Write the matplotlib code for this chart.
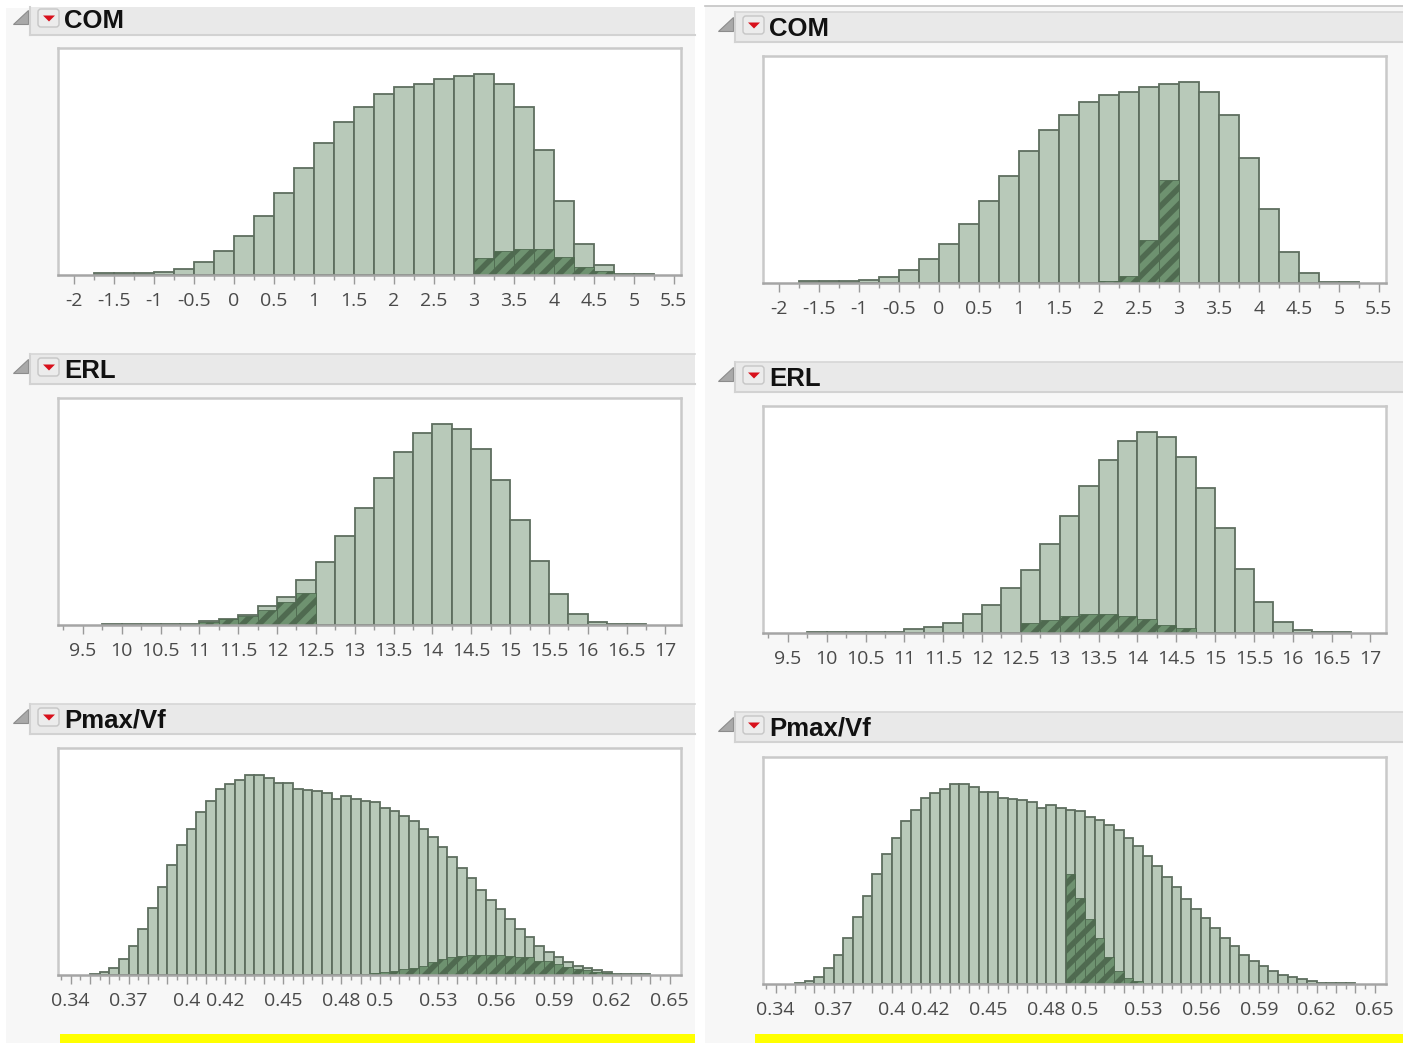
#JMP style distribution panels, two columns of three histograms
import matplotlib
matplotlib.use("Agg")
import matplotlib.pyplot as plt
from matplotlib.patches import Rectangle, Polygon, FancyBboxPatch
import numpy as np

titles = ["COM", "ERL", "Pmax/Vf"]

# heights, in the same arbitrary units as y_top
com_total = [5,5,5,10,19,39,73,117,177,247,321,394,459,503,543,562,571,586,596,603,571,503,374,222,92,30,4,4]
erl_total = [4,4,4,4,4,11,19,30,56,84,134,188,267,351,439,517,576,602,587,528,434,315,193,93,34,10,4,4]
pmax_total = [3,8,21,48,88,139,201,265,330,390,438,487,521,556,572,585,600,600,591,575,575,556,555,552,546,527,536,527,522,519,
              500,492,477,462,438,414,384,354,320,290,255,225,197,167,138,113,87,69,54,39,28,20,15,9,4,4,4,4]
y_top = 680

com_bins = np.arange(-1.75, 5.25, 0.25)
erl_bins = np.arange(9.75, 16.75, 0.25)
pmax_bins = 0.35 + 0.005 * np.arange(58)

# selected part of each histogram, left column
com_sel_l_x = [3, 3.25, 3.5, 3.75, 4, 4.25, 4.5, 4.75]
com_sel_l_h = [52, 72, 78, 78, 54, 25, 13, 3]
erl_sel_l_x = [10.75, 11, 11.25, 11.5, 11.75, 12, 12.25]
erl_sel_l_h = [2, 9, 17, 27, 45, 70, 95]
pmax_sel_l_x = [0.485,0.49,0.495,0.5,0.505,0.51,0.515,0.52,0.525,0.53,0.535,0.54,0.545,0.55,0.555,0.56,0.565,0.57,0.575,0.58,0.585,0.59,0.595,0.6,0.605,0.61,0.615,0.62]
pmax_sel_l_h = [1,4,6,8,12,18,22,27,40,47,53,57,59,60,61,61,57,55,54,43,41,33,25,19,14,10,5,2]

# right column
com_sel_r_x = [2, 2.25, 2.5, 2.75]
com_sel_r_h = [7, 20, 130, 308]
erl_sel_r_x = [12.5, 12.75, 13, 13.25, 13.5, 13.75, 14, 14.25, 14.5, 14.75, 15, 15.25]
erl_sel_r_h = [29, 39, 51, 56, 56, 51, 41, 25, 16, 4, 2, 1]
pmax_sel_r_x = [0.49, 0.495, 0.5, 0.505, 0.51, 0.515, 0.52, 0.525, 0.53, 0.535]
pmax_sel_r_h = [329, 259, 196, 137, 81, 39, 19, 9, 3, 1]

half_ticks = [-2, -1.5, -1, -0.5, 0, 0.5, 1, 1.5, 2, 2.5, 3, 3.5, 4, 4.5, 5, 5.5]
half_labels = ["-2", "-1.5", "-1", "-0.5", "0", "0.5", "1", "1.5", "2", "2.5", "3", "3.5", "4", "4.5", "5", "5.5"]
erl_ticks = [9.5, 10, 10.5, 11, 11.5, 12, 12.5, 13, 13.5, 14, 14.5, 15, 15.5, 16, 16.5, 17]
erl_labels = ["9.5", "10", "10.5", "11", "11.5", "12", "12.5", "13", "13.5", "14", "14.5", "15", "15.5", "16", "16.5", "17"]
pmax_ticks = [0.34, 0.37, 0.4, 0.42, 0.45, 0.48, 0.5, 0.53, 0.56, 0.59, 0.62, 0.65]
pmax_labels = ["0.34", "0.37", "0.4", "0.42", "0.45", "0.48", "0.5", "0.53", "0.56", "0.59", "0.62", "0.65"]

plt.rcParams["font.family"] = "Open Sans"
plt.rcParams["hatch.linewidth"] = 4

W, H = 1403, 1043
fig = plt.figure(figsize=(W / 100, H / 100), dpi=100, facecolor="white")

# pixel canvas for the window chrome
bg = fig.add_axes([0, 0, 1, 1], zorder=0)
bg.set_xlim(0, W)
bg.set_ylim(H, 0)
bg.axis("off")
bg.add_patch(Rectangle((6, 8), 689, 1035, fc="#f7f7f7", ec="none"))
bg.add_patch(Rectangle((705, 6), 698, 1037, fc="#f7f7f7", ec="none"))
bg.plot([705, 1403], [5.5, 5.5], color="#c4c4c4", lw=1.2)
bg.add_patch(Rectangle((60, 1034), 635, 9, fc="#ffff00", ec="none"))
bg.add_patch(Rectangle((755, 1034), 648, 9, fc="#ffff00", ec="none"))


def header(x0, x1, y, title):
    bg.add_patch(Rectangle((x0, max(y, 7)), x1 - x0, 30 - max(7 - y, 0), fc="#e9e9e9", ec="none"))
    bg.plot([x0, x1], [y + 30, y + 30], color="#d2d2d2", lw=1.5)
    bg.plot([x0, x0], [max(y, 7), y + 30], color="#d2d2d2", lw=1.5)
    if y >= 7:
        bg.plot([x0, x1], [y, y], color="#d6d6d6", lw=1.2)
    bg.add_patch(Polygon([[x0 - 2, y + 5], [x0 - 2, y + 19], [x0 - 17, y + 19]], fc="#a9a9a9", ec="#8c8c8c", lw=0.8))
    bg.add_patch(FancyBboxPatch((x0 + 9.5, y + 5.5), 18, 15, boxstyle="round,pad=1.5,rounding_size=3",
                                fc="#ececec", ec="#c6c6c6", lw=1))
    bg.add_patch(Polygon([[x0 + 13, y + 10.5], [x0 + 25, y + 10.5], [x0 + 19, y + 16.5]], fc="#d8101c", ec="none"))
    bg.text(x0 + 34, y + 23.5, title, fontsize=18.5, fontweight="bold", family="Liberation Sans",
            color="#111111", va="baseline", ha="left")


def hist_panel(left, base, bins, width, total, sel_x, sel_h, xlim, ticks, labels, minor):
    ax = fig.add_axes([left / W, 1 - base / H, 623 / W, 227 / H], zorder=2)
    ax.bar(bins, total, width=width, align="edge", color="#b8c9b9", edgecolor="#5e6e5f", linewidth=1.3)
    ax.bar(sel_x, sel_h, width=width, align="edge", color="#6e9270", edgecolor="#4f6a50", hatch="//", linewidth=0.6)
    ax.set_yticks([])
    ax.set_xticks(ticks)
    ax.set_xticklabels(labels)
    ax.set_xticks(minor, minor=True)
    ax.set_xlim(*xlim)
    ax.set_ylim(0, y_top)
    ax.tick_params(axis="x", which="major", length=6.5, width=1, color="#9a9a9a",
                   labelsize=14, labelcolor="#4a4a4a", pad=5.5)
    ax.tick_params(axis="x", which="minor", length=3.3, width=1, color="#9a9a9a")
    for s in ax.spines.values():
        s.set_color("#c9c9c9")
        s.set_linewidth(1.8)
    ax.spines["bottom"].set_color("#a5a5a5")
    return ax


com_xlim = (-2.2, 5.59)
erl_xlim = (9.18, 17.2)
pmax_xlim = (0.3335, 0.6558)
com_minor = [-1.75 + 0.5 * i for i in range(15)]
erl_minor = [9.25 + 0.5 * i for i in range(16)]
pmax_minor = [0.335 + 0.01 * i for i in range(32)]

# long ticks every 0.01 in Pmax/Vf, only some of them carry a label
pmax_all = [round(0.34 + 0.01 * i, 2) for i in range(32)]
pmax_text = dict(zip(pmax_ticks, pmax_labels))
pmax_all_labels = [pmax_text.get(t, "") for t in pmax_all]

columns = [
    (58, 30, 695, [275, 625, 975], [5, 354, 704],
     (com_sel_l_x, com_sel_l_h), (erl_sel_l_x, erl_sel_l_h), (pmax_sel_l_x, pmax_sel_l_h)),
    (763, 735, 1403, [283, 633, 984], [12, 362, 712],
     (com_sel_r_x, com_sel_r_h), (erl_sel_r_x, erl_sel_r_h), (pmax_sel_r_x, pmax_sel_r_h)),
]

for left, hx0, hx1, bases, heads, com_sel, erl_sel, pmax_sel in columns:
    for y, t in zip(heads, titles):
        header(hx0, hx1, y, t)
    hist_panel(left, bases[0], com_bins, 0.25, com_total, com_sel[0], com_sel[1], com_xlim,
               half_ticks, half_labels, com_minor)
    hist_panel(left, bases[1], erl_bins, 0.25, erl_total, erl_sel[0], erl_sel[1], erl_xlim,
               erl_ticks, erl_labels, erl_minor)
    hist_panel(left, bases[2], pmax_bins, 0.005, pmax_total, pmax_sel[0], pmax_sel[1], pmax_xlim,
               pmax_all, pmax_all_labels, pmax_minor)

fig.savefig("out.png", dpi=100, facecolor="white")
